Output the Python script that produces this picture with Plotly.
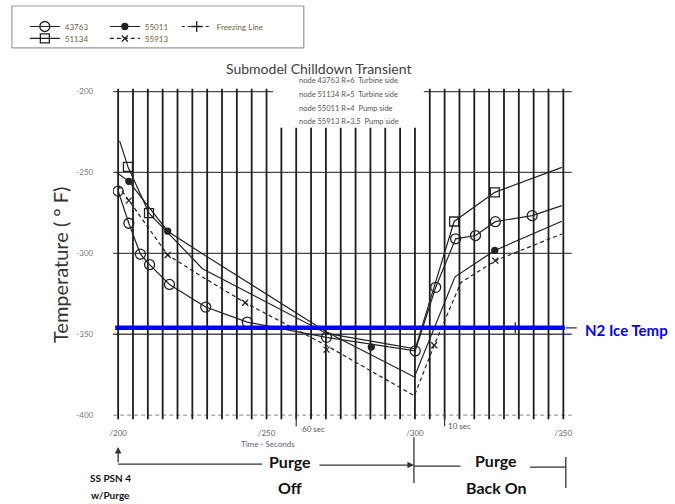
import plotly.graph_objects as go

W, H = 675, 504
def P(x):  # pixel x -> paper
    return x / W
def Q(y):  # pixel y -> paper
    return 1 - y / H

# ---------------- data (time in s, temperature in deg F) ----------------
s43763_t = [200, 203.6, 207.5, 210.6, 217.3, 229.5, 243.5, 270.2, 300.1, 307.0, 313.7, 320.4, 327.1, 339.5, 349.5]
s43763_T = [-261.5, -281.4, -300.5, -307.0, -319.2, -333.2, -342.5, -351.9, -360.3, -321.0, -291.0, -289.0, -280.4, -276.7, -270.5]
s43763_mt = [200, 203.6, 207.5, 210.6, 217.3, 229.5, 243.5, 270.2, 300.1, 307.0, 313.7, 320.4, 327.1, 339.5]
s43763_mT = [-261.5, -281.4, -300.5, -307.0, -319.2, -333.2, -342.5, -351.9, -360.3, -321.0, -291.0, -289.0, -280.4, -276.7]

s51134_t = [200.5, 203.3, 210.4, 228.4, 270.2, 300.1, 313.2, 326.9, 349.5]
s51134_T = [-230.5, -246.5, -275.1, -309.5, -349.5, -359.0, -280.3, -262.3, -246.9]
s51134_mt = [203.3, 210.4, 313.2, 326.9]
s51134_mT = [-246.5, -275.1, -280.3, -262.3]

s55011_t = [199.5, 203.6, 216.7, 228.4, 270.2, 299.8, 313.5, 326.9, 349.5]
s55011_T = [-250.0, -255.5, -286.3, -300.3, -348.6, -376.4, -314.5, -298.2, -280.2]
s55011_mt = [203.6, 216.7, 285.3, 326.9]
s55011_mT = [-255.5, -286.3, -357.9, -298.2]

s55913_t = [200, 203.6, 216.7, 228.4, 242.8, 270.2, 299.8, 306.5, 315.5, 327.1, 349.5]
s55913_T = [-258.0, -267.4, -301.0, -314.6, -330.5, -357.0, -388.0, -356.8, -318.0, -304.5, -288.0]
s55913_mt = [203.6, 216.7, 242.8, 270.2, 306.5, 327.1]
s55913_mT = [-267.4, -301.0, -330.5, -359.5, -356.8, -304.5]

freeze_t = [200, 350]
freeze_T = [-346, -346]
freeze_mt = [333.8]
freeze_mT = [-346]

n2_ice_T = -346

x_tick_vals = [200, 250, 300, 350]
x_tick_text = ["/200", "/250", "/300", "/350"]
y_tick_vals = [-200, -250, -300, -350, -400]
y_tick_text = ["-200", "-250", "-300", "-350", "-400"]
grid_t = list(range(200, 351, 5))
solid_grid_T = [-200, -250, -300, -350]
dashed_grid_T = [-400]

node_notes = ["node 43763 R=6  Turbine side", "node 51134 R=5  Turbine side",
              "node 55011 R=4  Pump side", "node 55913 R=3.5  Pump side"]

x_range = [198.33, 352.84]
y_range = [-403.1, -197.7]

FONT = "Lato, 'Liberation Sans', Arial, sans-serif"
ink = "#222222"

fig = go.Figure()

def add_series(name, lt, lT, mt, mT, dash, symbol, msize, legend, rank):
    fig.add_trace(go.Scatter(x=lt, y=lT, mode="lines", line=dict(color=ink, width=1.2, dash=dash),
                             showlegend=False, hoverinfo="skip"))
    fig.add_trace(go.Scatter(x=mt, y=mT, mode="markers",
                             marker=dict(symbol=symbol, size=msize, color=ink,
                                         line=dict(color=ink, width=1.3)),
                             showlegend=False, hoverinfo="skip"))
    fig.add_trace(go.Scatter(x=[None], y=[None], name=name, mode="lines+markers",
                             line=dict(color=ink, width=1.2, dash=dash),
                             marker=dict(symbol=symbol, size=msize, color=ink,
                                         line=dict(color=ink, width=1.3)),
                             legend=legend, legendrank=rank))

add_series("43763", s43763_t, s43763_T, s43763_mt, s43763_mT, "solid", "circle-open", 10, "legend", 1)
add_series("55011", s55011_t, s55011_T, s55011_mt, s55011_mT, "solid", "circle", 6, "legend", 2)
add_series("Freezing Line", freeze_t, freeze_T, freeze_mt, freeze_mT, "3px,3px", "cross-thin-open", 8, "legend3", 1)
add_series("51134", s51134_t, s51134_T, s51134_mt, s51134_mT, "solid", "square-open", 9, "legend2", 1)
add_series("55913", s55913_t, s55913_T, s55913_mt, s55913_mT, "4px,3px", "x-thin-open", 6, "legend2", 2)

shapes = []
# vertical grid lines (top cut where the node note box sits)
for t in grid_t:
    top = -222.4 if 252.5 <= t <= 303 else -198.3
    shapes.append(dict(type="line", xref="x", yref="y", x0=t, x1=t, y0=-402.5, y1=top,
                       line=dict(color="#1e1e1e", width=1.8), layer="below"))
for T in solid_grid_T:
    shapes.append(dict(type="line", xref="x domain", yref="y", x0=0, x1=1, y0=T, y1=T,
                       line=dict(color="#4a4a4a", width=1.3), layer="below"))
for T in dashed_grid_T:
    shapes.append(dict(type="line", xref="x domain", yref="y", x0=0, x1=1, y0=T, y1=T,
                       line=dict(color="#888888", width=1, dash="4px,3px"), layer="below"))
# white area behind node notes
shapes.append(dict(type="rect", xref="paper", yref="paper", x0=P(271), x1=P(423), y0=Q(127), y1=Q(84),
                   fillcolor="white", line=dict(width=0), layer="below"))
# N2 ice temperature line
shapes.append(dict(type="line", xref="x", yref="y", x0=199.0, x1=350.5, y0=n2_ice_T, y1=n2_ice_T,
                   line=dict(color="#0000ff", width=4.5), layer="above"))
shapes.append(dict(type="line", xref="paper", yref="y", x0=P(566), x1=P(577), y0=n2_ice_T, y1=n2_ice_T,
                   line=dict(color="#333", width=1.2), layer="above"))
# 60 sec / 10 sec ticks
for t in [260, 310]:
    shapes.append(dict(type="line", xref="x", yref="paper", x0=t, x1=t, y0=Q(426), y1=Q(413),
                       line=dict(color="#333", width=1.2)))
# legend box
shapes.append(dict(type="rect", xref="paper", yref="paper", x0=P(8), x1=P(302), y0=Q(47), y1=Q(5),
                   line=dict(color="#999", width=1.2), fillcolor="rgba(0,0,0,0)"))
# purge timeline
def hline(x0, x1, y):
    shapes.append(dict(type="line", xref="paper", yref="paper", x0=P(x0), x1=P(x1), y0=Q(y), y1=Q(y),
                       line=dict(color="#333", width=1.3)))
def vline(x, y0, y1):
    shapes.append(dict(type="line", xref="paper", yref="paper", x0=P(x), x1=P(x), y0=Q(y0), y1=Q(y1),
                       line=dict(color="#333", width=1.3)))
hline(115, 260, 464)
vline(413, 437, 483)
hline(413, 460, 466)
hline(530, 566, 467)
vline(566, 457, 488)

ann = []
def text(x, y, s, size, color="#222", bold=False, xanchor="center", angle=0):
    ann.append(dict(xref="paper", yref="paper", x=P(x), y=Q(y), text=("<b>%s</b>" % s) if bold else s,
                    showarrow=False, xanchor=xanchor, yanchor="middle", textangle=angle,
                    font=dict(family=FONT, size=size, color=color)))

text(317, 68, "Submodel Chilldown Transient", 14, "#404040")
for i, s in enumerate(node_notes):
    text(295, 80 + i * 13.7, s, 7.5, "#555", xanchor="left")
text(57, 265, "Temperature ( \u00b0 F)", 20, "#333", angle=-90)
text(627, 330, "N2 Ice Temp", 15, "#0000ff", bold=True)
text(298, 429, "60 sec", 8, "#555", xanchor="left")
text(445, 426, "10 sec", 8, "#555", xanchor="left")
text(266, 444, "Time - Seconds", 8, "#6a5a85")
text(288, 461, "Purge", 16, "#111", bold=True)
text(288, 487, "Off", 16, "#111", bold=True)
text(496, 460, "Purge", 16, "#111", bold=True)
text(496, 487, "Back On", 16, "#111", bold=True)
text(107, 478, "SS PSN 4", 10, "#111", bold=True)
text(107, 495, "w/Purge", 10, "#111", bold=True)
# arrows
ann.append(dict(xref="paper", yref="paper", x=P(115), y=Q(447), ax=0, ay=17, text="", showarrow=True,
                arrowhead=2, arrowsize=1, arrowwidth=1.3, arrowcolor="#333"))
ann.append(dict(xref="paper", yref="paper", x=P(413), y=Q(465), ax=-96, ay=0, text="", showarrow=True,
                arrowhead=2, arrowsize=1, arrowwidth=1.3, arrowcolor="#333"))

leg_font = dict(family=FONT, size=8, color="#6f6440")
def leg(x, y, ew):
    return dict(orientation="h", x=P(x), y=Q(y), xanchor="left", yanchor="top",
                bgcolor="rgba(0,0,0,0)", borderwidth=0, font=leg_font,
                entrywidth=ew, entrywidthmode="pixels", tracegroupgap=0)

fig.update_layout(
    width=W, height=H, margin=dict(l=0, r=0, t=0, b=0),
    paper_bgcolor="white", plot_bgcolor="white",
    xaxis=dict(domain=[P(110), P(572)], range=x_range, showgrid=False, zeroline=False, showline=False,
               tickmode="array", tickvals=x_tick_vals, ticktext=x_tick_text, ticks="",
               tickfont=dict(family=FONT, size=8, color="#666"), ticklabelstandoff=7),
    yaxis=dict(domain=[Q(420), Q(87)], range=y_range, showgrid=False, zeroline=False, showline=False,
               tickmode="array", tickvals=y_tick_vals, ticktext=y_tick_text, ticks="",
               tickfont=dict(family=FONT, size=8, color="#777"), ticklabelstandoff=19),
    legend=leg(21, 11, 35),
    legend2=leg(21, 23, 35),
    legend3=leg(174, 11, 0),
    shapes=shapes, annotations=ann, showlegend=True,
)

fig.write_html("out.html")
